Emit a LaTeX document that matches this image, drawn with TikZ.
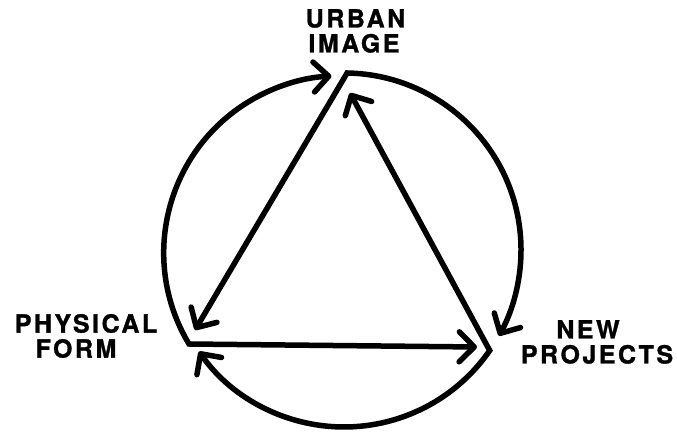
\documentclass[tikz,border=0pt]{standalone}
\usepackage{fontspec}
\setmainfont{TeX Gyre Heros}
\newfontfamily\labfont[LetterSpace=10,BoldFeatures={FakeBold=1.2}]{TeX Gyre Heros}
\usetikzlibrary{arrows.meta}
\begin{document}
\begin{tikzpicture}[x=1pt,y=1pt,
  cyc/.style={line width=5.5pt, line join=miter,
    {Straight Barb[length=15pt,width=30pt,round]}-{Straight Barb[length=15pt,width=30pt,round]}},
  lab/.style={inner sep=0pt, align=center, font=\labfont\bfseries\fontsize{25}{25}\selectfont}]
\useasboundingbox (0,0) rectangle (677,434);
% corners
\coordinate (T) at (347.1,361);
\coordinate (R) at (489.7,83.5);
\coordinate (L) at (189,90);
% free ends of the triangle sides
\coordinate (Ltip) at (195,104);
\coordinate (Rtip) at (477,87);
\coordinate (Ttip) at (350,341);
% three strokes: side <- corner -> arc
\draw[cyc] (Ltip) -- (T) arc[start angle=89, end angle=-29, radius=177];
\draw[cyc] (Rtip) -- (L) arc[start angle=211, end angle=93, radius=177];
\draw[cyc] (Ttip) -- (R) arc[start angle=-34.6, end angle=-145, radius=177];
% labels
\node[lab] (urban) at (354,403) {URBAN\kern-3pt\\IMAGE};
\node[lab] (newp) at (597,92) {NEW\kern18pt\\PROJECTS};
\node[lab] (phys) at (86,98) {PHYSICAL\\FORM\kern20pt};
\end{tikzpicture}
\end{document}
